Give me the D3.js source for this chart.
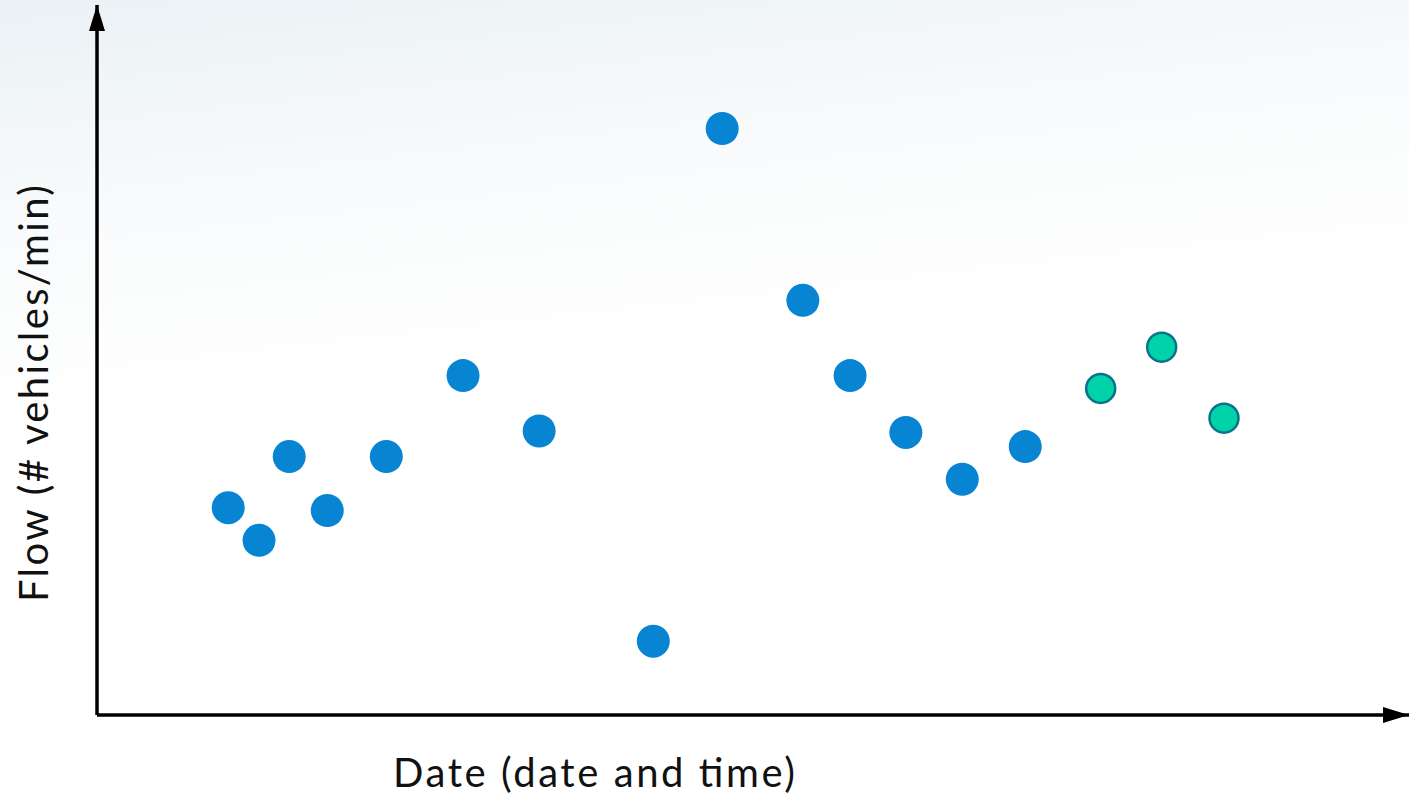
<!DOCTYPE html>
<html><head><meta charset="utf-8">
<script src="https://cdn.jsdelivr.net/npm/d3@7"></script>
<style>html,body{margin:0;padding:0;background:#fff;overflow:hidden}</style>
</head><body>
<svg id="chart" width="1409" height="796"></svg>
<script>
// Observed data (unitless, as in the schematic)
const observedTime = [2.0, 2.47, 2.93, 3.51, 4.41, 5.58, 6.74, 8.48, 9.53, 10.76, 11.48, 12.33, 13.19, 14.15];
const observedFlow = [14.6, 12.3, 18.2, 14.4, 18.2, 23.9, 20.0, 5.2, 41.3, 29.2, 23.9, 19.9, 16.6, 18.9];
const predictedTime = [15.3, 16.23, 17.18];
const predictedFlow = [23.0, 25.9, 20.9];
const xLabel = "Date (date and time)";
const yLabel = "Flow (# vehicles/min)";

const W = 1409, H = 796;
const svg = d3.select("#chart");
const defs = svg.append("defs");
const g = defs.append("linearGradient").attr("id","bg").attr("x1","0.05").attr("y1","0").attr("x2","0.15").attr("y2","0.5");
g.append("stop").attr("offset","0").attr("stop-color","#ebf2f5");
g.append("stop").attr("offset","0.5").attr("stop-color","#f8fafb");
g.append("stop").attr("offset","1").attr("stop-color","#ffffff");
svg.append("rect").attr("width",W).attr("height",H).attr("fill","url(#bg)");

const x = d3.scaleLinear().domain([0,20]).range([97,1409]);
const y = d3.scaleLinear().domain([0,50]).range([715,5]);

const mk = defs.append("marker").attr("id","arrow").attr("viewBox","0 0 26 16")
  .attr("refX",26).attr("refY",8).attr("markerWidth",26).attr("markerHeight",16)
  .attr("markerUnits","userSpaceOnUse").attr("orient","auto");
mk.append("path").attr("d","M0,0L26,8L0,16Z").attr("fill","#000");

const axisG = svg.append("g");
axisG.append("line").attr("x1",x(0)).attr("y1",y(0)).attr("x2",x(0)).attr("y2",y(50))
  .attr("stroke","#000").attr("stroke-width",3.5).attr("marker-end","url(#arrow)");
axisG.append("line").attr("x1",x(0)).attr("y1",y(0)).attr("x2",x(20)).attr("y2",y(0))
  .attr("stroke","#000").attr("stroke-width",3.5).attr("marker-end","url(#arrow)");

const obs = observedTime.map((t,i)=>({t, f: observedFlow[i]}));
const pred = predictedTime.map((t,i)=>({t, f: predictedFlow[i]}));

svg.append("g").selectAll("circle").data(obs).join("circle")
  .attr("cx",d=>x(d.t)).attr("cy",d=>y(d.f)).attr("r",16.5)
  .attr("fill","#0784d2");
svg.append("g").selectAll("circle").data(pred).join("circle")
  .attr("cx",d=>x(d.t)).attr("cy",d=>y(d.f)).attr("r",14.5)
  .attr("fill","#00d3aa").attr("stroke","#0a7389").attr("stroke-width",2.5);

svg.append("text").attr("x",393).attr("y",787)
  .attr("textLength",402).attr("lengthAdjust","spacing")
  .attr("font-family","Lato, 'Open Sans', sans-serif").attr("font-size",40).attr("fill","#111")
  .text(xLabel);
svg.append("text").attr("transform","translate(48,602) rotate(-90)")
  .attr("textLength",417).attr("lengthAdjust","spacing")
  .attr("font-family","Lato, 'Open Sans', sans-serif").attr("font-size",40).attr("fill","#111")
  .text(yLabel);
</script>
</body></html>
